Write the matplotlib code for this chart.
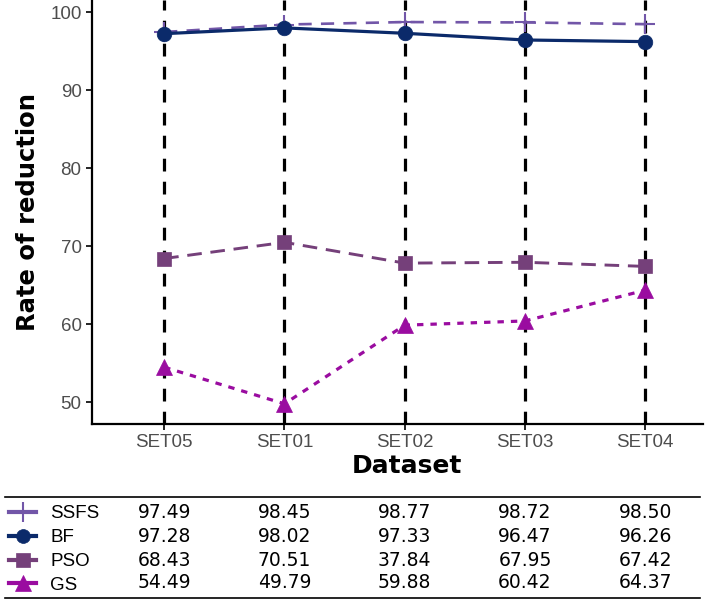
import matplotlib
matplotlib.use('Agg')
import matplotlib.pyplot as plt
from matplotlib.lines import Line2D
import numpy as np

# Data
datasets = ['SET05', 'SET01', 'SET02', 'SET03', 'SET04']
ssfs = [97.49, 98.45, 98.77, 98.72, 98.50]
bf = [97.28, 98.02, 97.33, 96.47, 96.26]
pso = [68.43, 70.51, 67.84, 67.95, 67.42]
gs = [54.49, 49.79, 59.88, 60.42, 64.37]
# table text as printed under the chart
pso_table = ['68.43', '70.51', '37.84', '67.95', '67.42']

plt.rcParams['font.family'] = ['Liberation Sans', 'DejaVu Sans']

W, H = 708, 605
fig = plt.figure(figsize=(W / 100, H / 100), dpi=100)
ax = fig.add_axes([92 / W, 1 - 424 / H, (703 - 92) / W, 424 / H])

x = np.arange(1, len(datasets) + 1)

for xi in x:
    ax.axvline(xi, color='black', lw=2.3, linestyle=(0, (4, 3.2)), zorder=1)

series = [
    ('SSFS', ssfs, '#7256a8', (0, (5, 3.5)), '+', 15, 1.9),
    ('BF', bf, '#0b2a6a', '-', 'o', 10.5, 2.3),
    ('PSO', pso, '#75407a', (0, (5, 3)), 's', 10.5, 2.1),
    ('GS', gs, '#9a0ca0', (0, (2, 2.2)), '^', 11.5, 2.3),
]
for name, vals, col, ls, mk, ms, lw in series:
    ax.plot(x, vals, color=col, linestyle=ls, lw=lw, marker=mk, markersize=ms,
            markeredgewidth=1.5 if mk == '+' else 0.5, markeredgecolor=col, zorder=3)

ax.set_xlim(0.4, 5.48)
ax.set_ylim(47.2, 101.6)
ax.set_xticks(x)
ax.set_xticklabels(datasets)
ax.set_yticks([50, 60, 70, 80, 90, 100])
ax.tick_params(axis='both', color='black', labelsize=13.5, length=4, width=1.2,
               labelcolor='#4d4d4d')
for s in ['top', 'right']:
    ax.spines[s].set_visible(False)
for s in ['left', 'bottom']:
    ax.spines[s].set_linewidth(1.6)
ax.set_xlabel('Dataset', fontsize=18, fontweight='bold', family='DejaVu Sans')
ax.xaxis.set_label_coords((407 - 92) / (703 - 92), -0.07)
ax.set_ylabel('Rate of reduction', fontsize=17.5, fontweight='bold', family='DejaVu Sans',
              labelpad=7)

# Table under the chart
trans = matplotlib.transforms.blended_transform_factory(ax.transData, fig.transFigure)
fig.add_artist(Line2D([5 / W, 700 / W], [1 - 497 / H, 1 - 497 / H], color='black', lw=1.2))
fig.add_artist(Line2D([5 / W, 700 / W], [1 - 598 / H, 1 - 598 / H], color='black', lw=1.2))

rows_y = [512, 536, 560, 583]
table_vals = [
    ['%.2f' % v for v in ssfs],
    ['%.2f' % v for v in bf],
    pso_table,
    ['%.2f' % v for v in gs],
]
for (name, vals, col, ls, mk, ms, lw), ry, texts in zip(series, rows_y, table_vals):
    yf = 1 - ry / H
    fig.add_artist(Line2D([9 / W, 36 / W], [yf, yf], color=col, lw=3))
    fig.add_artist(Line2D([22.5 / W], [yf], color=col, marker=mk, markersize=ms * 0.95,
                          markeredgewidth=1.5 if mk == '+' else 0.5, markeredgecolor=col))
    fig.text(50 / W, yf - 2 / H, name, fontsize=13.5, va='center', ha='left', color='black')
    for xi, t in zip(x, texts):
        fig.text(xi, yf, t, transform=trans, fontsize=13.5, va='center', ha='center',
                 family='DejaVu Sans', color='black')

fig.savefig('out.png', dpi=100)
